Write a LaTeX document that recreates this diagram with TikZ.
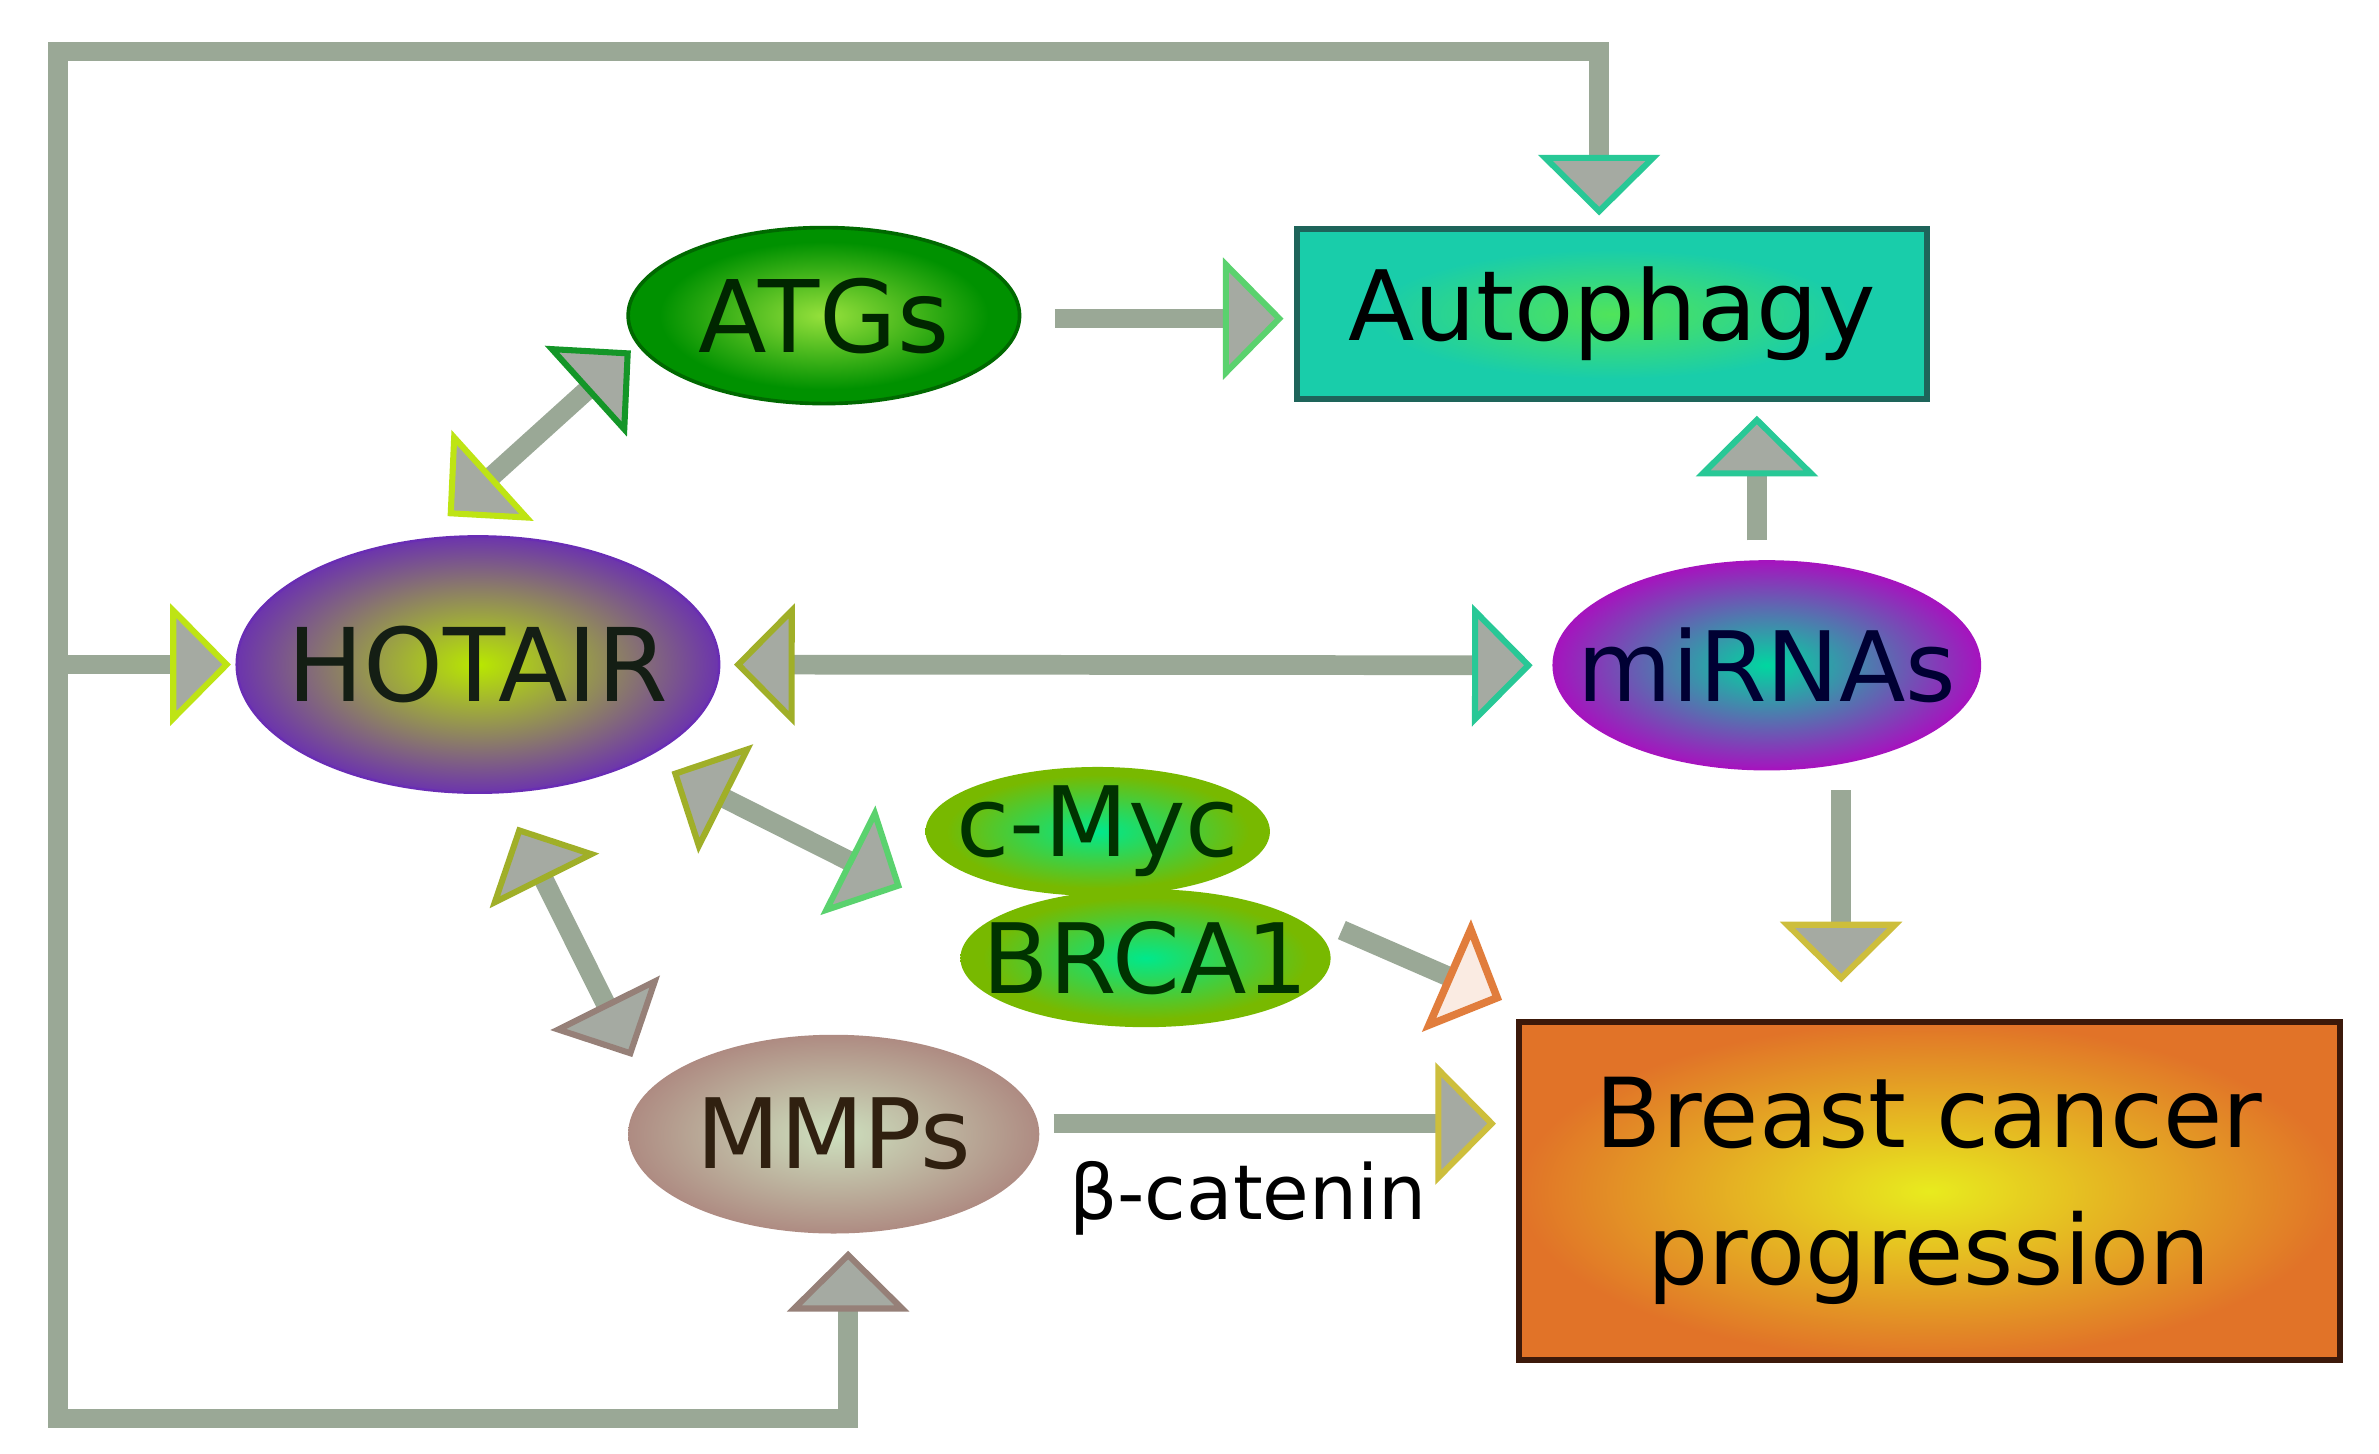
\documentclass[tikz,border=0pt]{standalone}
\usepackage{fontspec}
\setmainfont{DejaVu Sans}
\usetikzlibrary{shapes.geometric,arrows.meta,calc}

\definecolor{linegray}{RGB}{154,168,150}
\definecolor{tipgray}{RGB}{165,170,162}
\definecolor{tipyg}{RGB}{190,228,20}
\definecolor{tipteal}{RGB}{40,200,150}
\definecolor{tipgt}{RGB}{90,210,110}
\definecolor{tipgreen}{RGB}{20,150,40}
\definecolor{tipbrown}{RGB}{150,128,120}
\definecolor{tiporange}{RGB}{225,125,60}
\definecolor{tipyo}{RGB}{205,190,60}
\definecolor{tipolive}{RGB}{160,175,40}

\definecolor{hotin}{RGB}{185,232,0}
\definecolor{hotout}{RGB}{105,45,180}
\definecolor{atgin}{RGB}{150,225,60}
\definecolor{atgout}{RGB}{0,145,0}
\definecolor{atgrim}{RGB}{0,105,0}
\definecolor{mirin}{RGB}{0,215,160}
\definecolor{mirout}{RGB}{165,20,190}
\definecolor{mycin}{RGB}{0,232,140}
\definecolor{mycout}{RGB}{120,185,0}
\definecolor{mmpin}{RGB}{205,224,190}
\definecolor{mmpout}{RGB}{168,122,118}
\definecolor{autoin}{RGB}{80,228,90}
\definecolor{autoout}{RGB}{25,205,170}
\definecolor{autorim}{RGB}{30,100,90}
\definecolor{bcin}{RGB}{232,235,30}
\definecolor{bcout}{RGB}{225,115,40}
\definecolor{bcrim}{RGB}{60,25,10}
\definecolor{darktext}{RGB}{20,30,20}

\pgfdeclareradialshading{hotshade}{\pgfpoint{0bp}{0bp}}{color(0bp)=(hotin); color(26bp)=(hotout); color(50bp)=(hotout)}
\pgfdeclareradialshading{atgshade}{\pgfpoint{0bp}{0bp}}{color(0bp)=(atgin); color(21bp)=(atgout); color(50bp)=(atgout)}
\pgfdeclareradialshading{mirshade}{\pgfpoint{0bp}{0bp}}{color(0bp)=(mirin); color(25bp)=(mirout); color(50bp)=(mirout)}
\pgfdeclareradialshading{mycshade}{\pgfpoint{0bp}{0bp}}{color(0bp)=(mycin); color(22bp)=(mycout); color(50bp)=(mycout)}
\pgfdeclareradialshading{mmpshade}{\pgfpoint{0bp}{0bp}}{color(0bp)=(mmpin); color(30bp)=(mmpout); color(50bp)=(mmpout)}
\pgfdeclareradialshading{autoshade}{\pgfpoint{0bp}{0bp}}{color(0bp)=(autoin); color(19bp)=(autoout); color(50bp)=(autoout)}
\pgfdeclareradialshading{bcshade}{\pgfpoint{0bp}{0bp}}{color(0bp)=(bcin); color(25bp)=(bcout); color(50bp)=(bcout)}

\begin{document}
\begin{tikzpicture}[x=0.5pt,y=-0.5pt,
  conn/.style={draw=linegray,line width=6.5pt},
  ell/.style={ellipse,inner sep=0pt,shade},
  lbl/.style={font=\fontsize{32}{38}\selectfont,text=darktext},
  boxnode/.style={rectangle,inner sep=0pt,shade,line width=2pt,font=\fontsize{32}{38}\selectfont,text=black,align=center}
]
\useasboundingbox (0,0) rectangle (1568,958);
\fill[white] (0,0) rectangle (1568,958);

% nodes
\node[ell,shading=atgshade,draw=atgrim,line width=1.2pt,minimum width=129pt,minimum height=58pt,
  label={[lbl,font=\fontsize{33}{38}\selectfont,text=black!85!green]center:ATGs}] (atgs) at (543,208) {};
\node[ell,shading=hotshade,draw=hotout,line width=0.8pt,minimum width=159pt,minimum height=84.5pt,
  label={[lbl,font=\fontsize{33.5}{38}\selectfont]center:HOTAIR}] (hotair) at (315,438) {};
\node[ell,shading=mirshade,draw=mirout,line width=0.8pt,minimum width=140.5pt,minimum height=68.5pt,
  label={[lbl,text=black!80!blue]center:miRNAs}] (mirnas) at (1164.5,438.5) {};
\node[ell,shading=mycshade,minimum width=113.5pt,minimum height=42.5pt,
  label={[lbl,text=black!80!green]center:c-Myc}] (cmyc) at (723.5,548) {};
\node[ell,shading=mycshade,minimum width=122pt,minimum height=45.5pt,
  label={[lbl,text=black!80!green]center:BRCA1}] (brca) at (755,631.5) {};
\node[ell,shading=mmpshade,minimum width=135.5pt,minimum height=65.5pt,
  label={[lbl,text=black!75!brown]center:MMPs}] (mmps) at (549.5,747.5) {};
\node[boxnode,shading=autoshade,draw=autorim,minimum width=207.5pt,minimum height=56pt] (auto) at (1062.5,207) {Autophagy};
\node[boxnode,shading=bcshade,draw=bcrim,minimum width=270.5pt,minimum height=111.5pt,
  font=\fontsize{31.8}{45}\selectfont] (bc) at (1271.5,785) {Breast cancer\\progression};
\node[anchor=base,font=\fontsize{25}{30}\selectfont,text=black] (beta) at (822.5,803.6) {β-catenin};

% outer loop
\coordinate (lt) at (38,34);
\coordinate (lb) at (38,935);
\coordinate (rt) at (1054,34);
\coordinate (mb) at (559,935);
\draw[conn,
  {Triangle[length=20pt,width=40pt,line width=2pt,color=tipbrown,fill=tipgray]}-{Triangle[length=20pt,width=40pt,line width=2pt,color=tipteal,fill=tipgray]},
  shorten <=5.5pt, shorten >=3.5pt]
  (mmps.south -| mb) -- (mb) -- (lb) -- (lt) -- (rt) -- (rt |- auto.north);
\draw[conn,-{Triangle[length=20pt,width=40pt,line width=2pt,color=tipyg,fill=tipgray]},shorten >=1.5pt]
  (lb |- hotair.west) -- (hotair.west);

% ATGs -> Autophagy
\draw[conn,-{Triangle[length=20pt,width=40pt,line width=2pt,color=tipgt,fill=tipgray]},shorten >=3.5pt]
  ($(atgs.east)+(22,2)$) coordinate (a1) -- (a1 -| auto.west);
% miRNAs -> Autophagy
\draw[conn,-{Triangle[length=20pt,width=40pt,line width=2pt,color=tipteal,fill=tipgray]},shorten >=4.5pt]
  ($(mirnas.north)+(-6.5,-13)$) coordinate (m1) -- (m1 |- auto.south);
% HOTAIR <-> miRNAs
\draw[conn,
  {Triangle[length=20pt,width=40pt,line width=2pt,color=tipolive,fill=tipgray]}-{Triangle[length=20pt,width=40pt,line width=2pt,color=tipteal,fill=tipgray]},
  shorten <=4.5pt, shorten >=6.5pt] (hotair.east) -- (mirnas.west);
% HOTAIR <-> ATGs
\draw[conn,
  {Triangle[length=20pt,width=40pt,line width=2pt,color=tipyg,fill=tipgray]}-{Triangle[length=20pt,width=40pt,line width=2pt,color=tipgreen,fill=tipgray]}]
  ($(hotair.north)+(-20,-12.5)$) -- ($(atgs.west)+(3,23)$);
% HOTAIR <-> c-Myc
\draw[conn,
  {Triangle[length=20pt,width=40pt,line width=2pt,color=tipolive,fill=tipgray]}-{Triangle[length=20pt,width=40pt,line width=2pt,color=tipgt,fill=tipgray]}]
  ($(hotair.south east)+(14.6,10.3)$) -- ($(cmyc.west)+(-15,37)$);
% HOTAIR <-> MMPs
\draw[conn,
  {Triangle[length=20pt,width=40pt,line width=2pt,color=tipolive,fill=tipgray]}-{Triangle[length=20pt,width=40pt,line width=2pt,color=tipbrown,fill=tipgray]}]
  ($(hotair.south)+(26,21.5)$) -- ($(mmps.north west)+(-36.7,-4.2)$);
% BRCA1 -> Breast cancer
\draw[conn,-{Triangle[length=20pt,width=40pt,line width=2.5pt,color=tiporange,fill=white!85!tiporange]}]
  ($(brca.east)+(7,-18.5)$) -- ($(bc.north west)+(-9,-12.5)$);
% MMPs -> Breast cancer
\draw[conn,-{Triangle[length=20pt,width=40pt,line width=2pt,color=tipyo,fill=tipgray]},shorten >=6.5pt]
  ($(mmps.east)+(9,-7)$) coordinate (m2) -- (m2 -| bc.west);
% miRNAs -> Breast cancer
\draw[conn,-{Triangle[length=20pt,width=40pt,line width=2pt,color=tipyo,fill=tipgray]},shorten >=12pt]
  ($(mirnas.south)+(49,13)$) coordinate (m3) -- (m3 |- bc.north);
\end{tikzpicture}
\end{document}
